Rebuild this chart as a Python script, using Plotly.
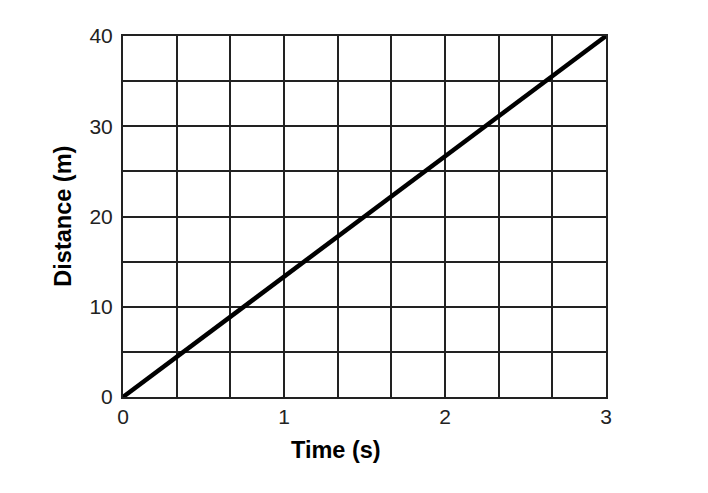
"""Distance vs time line graph on a square grid."""

import plotly.graph_objects as go

TIME_S = [0, 3]
DISTANCE_M = [0, 40]
X_TICKS = [0, 1, 2, 3]
Y_TICKS = [0, 10, 20, 30, 40]

GRID = "#222222"
FONT = "Liberation Sans, Arial, sans-serif"

fig = go.Figure(
    go.Scatter(
        x=TIME_S,
        y=DISTANCE_M,
        mode="lines",
        line={"color": "black", "width": 4.5},
        hoverinfo="skip",
    )
)

axis_common = dict(
    showgrid=True,
    gridcolor=GRID,
    gridwidth=1.5,
    showline=True,
    linecolor=GRID,
    linewidth=2,
    mirror=True,
    zeroline=False,
    ticks="",
    tickfont={"family": FONT, "size": 21, "color": "#222"},
)

fig.update_xaxes(
    range=[0, 3],
    tickvals=X_TICKS,
    minor={"dtick": 1 / 3, "showgrid": True, "gridcolor": GRID, "gridwidth": 1.5, "tick0": 0},
    ticklabelstandoff=0,
    **axis_common,
)
fig.update_yaxes(
    range=[0, 40],
    tickvals=Y_TICKS,
    minor={"dtick": 5, "showgrid": True, "gridcolor": GRID, "gridwidth": 1.5, "tick0": 0},
    ticklabelstandoff=4,
    **axis_common,
)

fig.add_annotation(
    text="<b>Time (s)</b>", x=0.441, y=-0.147, xref="paper", yref="paper",
    xanchor="center", yanchor="middle",
    showarrow=False, font={"family": FONT, "size": 23.5, "color": "black"},
)
fig.add_annotation(
    text="<b>Distance (m)</b>", x=-0.126, y=0.5, xref="paper", yref="paper",
    xanchor="center", yanchor="middle", textangle=-90,
    showarrow=False, font={"family": FONT, "size": 23.5, "color": "black"},
)

# the page body adds an 8px margin, so the margins are trimmed to land the plot area
fig.update_layout(
    width=708,
    height=493,
    margin={"l": 115, "r": 110, "t": 28, "b": 104},
    plot_bgcolor="white",
    paper_bgcolor="white",
    showlegend=False,
)

fig.write_html("out.html")
